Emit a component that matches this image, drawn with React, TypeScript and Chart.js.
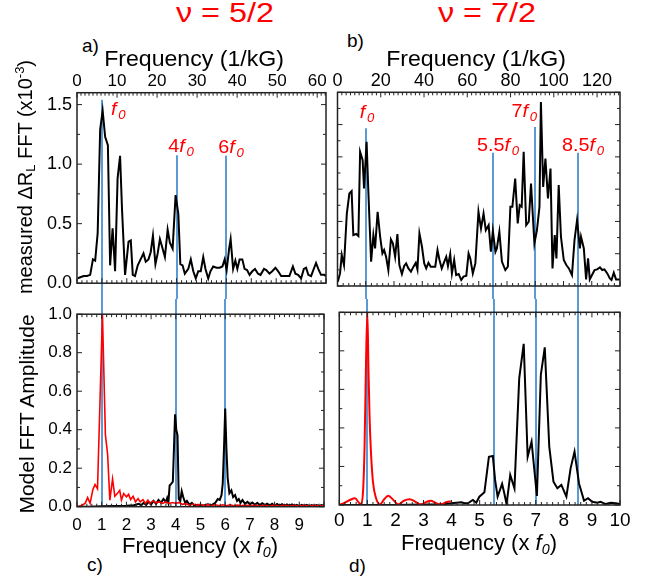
import React, { useEffect, useRef } from 'react';
import { Chart, registerables } from 'chart.js';
Chart.register(...registerables);

// ---------------- data ----------------
const f0_52 = 6.22; // 1/kG
const f0_72 = 13.06; // 1/kG

const harmonics52 = [1, 4, 6];
const harmonicPrefix52 = ['', '4', '6'];
const harmonics72 = [1, 5.5, 7, 8.5];
const harmonicPrefix72 = ['', '5.5', '7', '8.5'];

// measured FFT, nu = 5/2  [freq (x f0), amplitude (x1e-3)]
const measured52: number[][] = [
  [0.03,0.04],[0.13,0.05],[0.27,0.06],[0.4,0.06],[0.53,0.07],[0.64,0.2],[0.73,0.19],[0.83,0.42],[0.93,1.29],[1.03,1.45],
  [1.13,1.23],[1.24,1.16],[1.33,0.15],[1.43,0.46],[1.53,0.1],[1.63,0.88],[1.73,1.07],[1.81,0.61],[1.93,0.07],[2.07,0.35],
  [2.16,0.36],[2.24,0.07],[2.33,0.06],[2.44,0.15],[2.53,0.19],[2.67,0.25],[2.76,0.18],[2.87,0.2],[2.96,0.26],[3.05,0.4],
  [3.15,0.16],[3.24,0.25],[3.33,0.37],[3.44,0.29],[3.53,0.22],[3.64,0.45],[3.73,0.34],[3.84,0.29],[3.96,0.74],[4.07,0.58],
  [4.15,0.16],[4.24,0.15],[4.33,0.08],[4.47,0.12],[4.57,0.2],[4.67,0.1],[4.77,0.04],[4.87,0.1],[4.97,0.1],[5.07,0.22],
  [5.16,0.12],[5.27,0.04],[5.36,0.1],[5.47,0.14],[5.6,0.13],[5.73,0.13],[5.84,0.14],[5.93,0.2],[6.01,0.11],[6.11,0.29],
  [6.17,0.37],[6.27,0.12],[6.36,0.19],[6.44,0.12],[6.53,0.2],[6.64,0.2],[6.73,0.12],[6.83,0.11],[6.93,0.07],[7.04,0.1],
  [7.15,0.12],[7.27,0.08],[7.37,0.07],[7.51,0.12],[7.6,0.11],[7.73,0.08],[7.84,0.1],[7.97,0.13],[8.08,0.1],[8.2,0.06],
  [8.31,0.06],[8.43,0.06],[8.53,0.06],[8.67,0.14],[8.77,0.08],[8.88,0.07],[9.0,0.04],[9.11,0.12],[9.2,0.13],[9.29,0.07],
  [9.4,0.06],[9.49,0.11],[9.6,0.17],[9.69,0.12],[9.8,0.07],[9.93,0.07],[10,0.06],
];

// measured FFT, nu = 7/2  [freq (x f0), amplitude (arb.)]
const measured72: number[][] = [
  [0.01,0.027],[0.09,0.078],[0.15,0.192],[0.23,0.13],[0.33,0.449],[0.42,0.573],[0.5,0.588],[0.56,0.315],[0.66,0.322],[0.74,0.309],
  [0.8,0.831],[0.89,0.779],[0.94,0.604],[1.03,0.893],[1.09,0.594],[1.19,0.151],[1.27,0.315],[1.33,0.233],[1.42,0.46],[1.51,0.305],
  [1.59,0.202],[1.65,0.223],[1.72,0.181],[1.8,0.099],[1.89,0.289],[1.96,0.264],[2.04,0.181],[2.12,0.322],[2.19,0.13],[2.28,0.074],
  [2.36,0.124],[2.43,0.14],[2.51,0.109],[2.6,0.089],[2.69,0.12],[2.77,0.144],[2.83,0.103],[2.9,0.326],[2.99,0.243],[3.07,0.14],
  [3.14,0.109],[3.22,0.144],[3.3,0.12],[3.4,0.12],[3.46,0.12],[3.54,0.223],[3.61,0.161],[3.69,0.109],[3.78,0.151],[3.85,0.181],
  [3.91,0.124],[3.99,0.198],[4.05,0.078],[4.13,0.161],[4.2,0.068],[4.29,0.074],[4.38,0.037],[4.46,0.058],[4.56,0.064],[4.64,0.202],
  [4.7,0.171],[4.79,0.078],[4.88,0.14],[4.99,0.46],[5.08,0.357],[5.17,0.449],[5.25,0.346],[5.35,0.377],[5.43,0.212],[5.5,0.342],
  [5.59,0.212],[5.64,0.233],[5.73,0.336],[5.82,0.151],[5.94,0.099],[6.03,0.12],[6.12,0.491],[6.19,0.491],[6.29,0.666],[6.38,0.388],
  [6.45,0.501],[6.52,0.491],[6.59,0.831],[6.68,0.377],[6.77,0.398],[6.85,0.635],[6.97,0.264],[7.06,0.346],[7.15,0.491],[7.2,1.14],
  [7.28,0.614],[7.36,0.79],[7.45,0.542],[7.54,0.728],[7.61,0.109],[7.69,0.315],[7.75,0.171],[7.83,0.625],[7.91,0.305],[8.01,0.161],
  [8.1,0.13],[8.19,0.109],[8.3,0.068],[8.39,0.285],[8.48,0.408],[8.58,0.233],[8.62,0.305],[8.72,0.233],[8.8,0.041],[8.87,0.171],
  [8.93,0.041],[9.01,0.068],[9.1,0.099],[9.19,0.103],[9.29,0.115],[9.37,0.099],[9.45,0.103],[9.55,0.078],[9.64,0.047],[9.7,0.037],
  [9.78,0.082],[9.86,0.041],[9.95,0.041],[10,0.041],
];

// model FFT, nu = 5/2
const model52Red: number[][] = [
  [0.03,0],[0.2,0.008],[0.33,0.017],[0.43,0.047],[0.53,0.017],[0.64,0.088],[0.73,0.115],[0.83,0.093],[0.93,0.54],[1.03,1.0],
  [1.15,0.373],[1.24,0.271],[1.33,0.034],[1.44,0.144],[1.53,0.054],[1.63,0.068],[1.73,0.085],[1.8,0.034],[1.89,0.068],[2.0,0.051],
  [2.09,0.064],[2.17,0.037],[2.27,0.054],[2.37,0.025],[2.47,0.042],[2.56,0.025],[2.67,0.037],[2.77,0.017],[2.87,0.034],[2.96,0.017],
  [3.07,0.03],[3.2,0.02],[3.33,0.025],[3.47,0.017],[3.6,0.025],[3.73,0.017],[3.87,0.022],[4.0,0.017],[4.13,0.022],[4.27,0.012],
  [4.4,0.016],[4.55,0.008],[4.7,0.014],[4.85,0.007],[5.0,0.012],[5.15,0.006],[5.3,0.011],[5.45,0.006],[5.6,0.01],[5.75,0.005],
  [5.9,0.01],[6.05,0.005],[6.2,0.01],[6.35,0.005],[6.5,0.009],[6.65,0.005],[6.8,0.009],[7.0,0.005],[7.2,0.008],[7.4,0.004],
  [7.6,0.008],[7.8,0.004],[8.0,0.008],[8.2,0.004],[8.4,0.008],[8.6,0.004],[8.8,0.007],[9.0,0.004],[9.2,0.007],[9.4,0.004],
  [9.6,0.007],[9.8,0.004],[10,0.006],
];
const model52Black: number[][] = [
  [0,0],[0.5,0],[1.0,0.002],[1.5,0.003],[2.0,0.005],[2.3,0.008],[2.5,0.015],[2.6,0.008],[2.7,0.02],[2.8,0.01],
  [2.9,0.025],[3.0,0.012],[3.1,0.03],[3.2,0.015],[3.3,0.035],[3.4,0.02],[3.5,0.04],[3.6,0.025],[3.65,0.045],[3.7,0.02],
  [3.75,0.11],[3.82,0.12],[3.88,0.13],[3.93,0.32],[3.97,0.48],[4.02,0.4],[4.07,0.37],[4.12,0.04],[4.18,0.03],[4.24,0.08],
  [4.3,0.05],[4.38,0.02],[4.45,0.03],[4.55,0.01],[4.65,0.02],[4.75,0.005],[4.9,0.01],[5.1,0.005],[5.3,0.012],[5.45,0.008],
  [5.6,0.02],[5.7,0.04],[5.78,0.035],[5.85,0.06],[5.9,0.12],[5.95,0.3],[6.0,0.51],[6.05,0.3],[6.1,0.15],[6.17,0.07],
  [6.25,0.085],[6.32,0.05],[6.4,0.06],[6.48,0.03],[6.55,0.04],[6.62,0.02],[6.7,0.035],[6.8,0.015],[6.9,0.025],[7.0,0.012],
  [7.1,0.022],[7.2,0.01],[7.3,0.02],[7.4,0.008],[7.5,0.018],[7.6,0.008],[7.7,0.016],[7.8,0.006],[7.9,0.015],[8.0,0.005],
  [8.1,0.014],[8.2,0.006],[8.3,0.013],[8.4,0.004],[8.5,0.012],[8.6,0.004],[8.7,0.012],[8.8,0.004],[8.9,0.01],[9.0,0.003],
  [9.1,0.01],[9.2,0.004],[9.3,0.01],[9.4,0.003],[9.5,0.009],[9.6,0.004],[9.7,0.009],[9.8,0.004],[9.9,0.008],[10,0.005],
];

// model FFT, nu = 7/2
const model72Red: number[][] = [
  [0,0],[0.2,0.012],[0.38,0.026],[0.56,0.035],[0.7,0.012],[0.78,0.004],[0.85,0.08],[0.9,0.3],[0.95,0.72],[1.0,1.0],
  [1.04,0.7],[1.08,0.45],[1.13,0.27],[1.2,0.12],[1.3,0.04],[1.45,0.003],[1.6,0.03],[1.74,0.048],[1.9,0.03],[2.1,0.003],
  [2.3,0.022],[2.5,0.03],[2.7,0.018],[2.9,0.002],[3.1,0.016],[3.25,0.022],[3.45,0.01],[3.6,0.002],[3.8,0.014],[3.97,0.02],
];
const model72Black: number[][] = [
  [0,0],[1,0],[2,0],[3,0.002],[3.7,0.004],[3.99,0.009],[4.17,0.012],[4.35,0.014],[4.47,0.009],[4.58,0.009],
  [4.76,0.026],[4.88,0.012],[4.99,0.043],[5.17,0.066],[5.33,0.25],[5.47,0.254],[5.55,0.13],[5.64,0.043],[5.8,0.11],[5.88,0.06],
  [5.96,0.004],[6.09,0.156],[6.24,0.087],[6.41,0.657],[6.57,0.836],[6.71,0.25],[6.85,0.329],[7.04,0.047],[7.18,0.675],[7.32,0.818],
  [7.48,0.303],[7.63,0.121],[7.77,0.087],[7.91,0.104],[8.09,0.043],[8.24,0.19],[8.38,0.277],[8.54,0.112],[8.72,0.022],[8.86,0.035],
  [9.01,0.017],[9.19,0.012],[9.31,0.017],[9.49,0.005],[9.67,0.012],[9.85,0.009],[10,0.005],
];

// ---------------- styling ----------------
const FONT = "'Liberation Sans', Arial, Helvetica, sans-serif";
const BLUE = '#5b9bd5';
const RED = '#ff0000';
const LABEL_SX = 1.1;

const harmonicPlugin: any = {
  id: 'harmonics',
  beforeDatasetsDraw(chart: any, _a: any, o: any) {
    const { ctx, chartArea, scales } = chart;
    const x = scales.x, y = scales.y;
    ctx.save();
    ctx.strokeStyle = BLUE;
    ctx.lineWidth = 2;
    ctx.beginPath();
    o.positions.forEach((p: number, i: number) => {
      const px = Math.round(x.getPixelForValue(p));
      const y0 = o.tops ? y.getPixelForValue(o.tops[i]) : 0;
      const y1 = o.toCanvasBottom ? chart.height : chartArea.bottom;
      ctx.moveTo(px, y0);
      ctx.lineTo(px, y1);
    });
    ctx.stroke();
    ctx.restore();
  },
  afterDraw(chart: any, _a: any, o: any) {
    if (!o.prefixes) return;
    const { ctx, scales } = chart;
    const x = scales.x, y = scales.y;
    o.positions.forEach((p: number, i: number) => {
      const px = Math.round(x.getPixelForValue(p)) + o.dx[i];
      const base = y.getPixelForValue(o.tops[i]) + o.dy[i];
      ctx.save();
      ctx.translate(px, base);
      ctx.scale(LABEL_SX, 1);
      ctx.fillStyle = RED;
      ctx.textBaseline = 'alphabetic';
      ctx.textAlign = 'left';
      const pre = o.prefixes[i];
      ctx.font = `18px ${FONT}`;
      const w1 = ctx.measureText(pre).width;
      ctx.font = `italic 18px ${FONT}`;
      const w2 = ctx.measureText('f').width + 1.5;
      ctx.font = `italic 12px ${FONT}`;
      const w3 = ctx.measureText('0').width;
      const tot = w1 + w2 + w3;
      const al = o.align[i];
      const s0 = al === 'left' ? 0 : al === 'right' ? -tot : -tot / 2;
      ctx.font = `18px ${FONT}`;
      ctx.fillText(pre, s0, 0);
      ctx.font = `italic 18px ${FONT}`;
      ctx.fillText('f', s0 + w1, 0);
      ctx.font = `italic 12px ${FONT}`;
      ctx.fillText('0', s0 + w1 + w2, 4);
      ctx.restore();
    });
  },
};

const framePlugin: any = {
  id: 'frame',
  afterDraw(chart: any, _a: any, o: any) {
    const { ctx, chartArea, scales } = chart;
    const { left, right, top, bottom } = chartArea;
    const xs = scales.x, ys = scales.y;
    const ts = scales[o.topScale] || xs;
    const run = (scale: any, minor: number, every: number, cb: (p: number, l: number) => void) => {
      const n = Math.floor((scale.max - scale.min) / minor + 1e-6);
      for (let i = 0; i <= n; i++) {
        const v = scale.min + i * minor;
        cb(scale.getPixelForValue(v), i % every === 0 ? 5 : 3);
      }
    };
    ctx.save();
    ctx.strokeStyle = '#222';
    ctx.lineWidth = 1;
    ctx.beginPath();
    run(xs, o.xMinor, o.xEvery, (p, l) => { ctx.moveTo(p, bottom); ctx.lineTo(p, bottom - l); });
    run(ts, o.topMinor, o.topEvery, (p, l) => { ctx.moveTo(p, top); ctx.lineTo(p, top + l); });
    run(ys, o.yMinor, o.yEvery, (p, l) => {
      ctx.moveTo(left, p); ctx.lineTo(left + l, p);
      ctx.moveTo(right, p); ctx.lineTo(right - l, p);
    });
    ctx.stroke();
    ctx.lineWidth = 1.5;
    ctx.strokeRect(left, top, right - left, bottom - top);
    ctx.restore();
  },
};

const line = (pairs: number[][], color: string, width: number, smooth = false) => ({
  data: pairs.map(([x, y]) => ({ x, y })),
  borderColor: color,
  backgroundColor: color,
  borderWidth: width,
  pointRadius: 0,
  fill: false,
  tension: 0,
  cubicInterpolationMode: smooth ? 'monotone' : 'default',
});

const tickFont = (size: number) => ({ family: FONT, size });
const noGrid = { display: false, drawTicks: false };

const xHidden = { type: 'linear', display: false, min: 0, max: 10 };

const makeA = () => ({
  type: 'line',
  data: { datasets: [line(measured52, '#000', 2)] },
  plugins: [harmonicPlugin, framePlugin],
  options: {
    responsive: false, animation: false, events: [],
    layout: { padding: { left: 37, right: 6, top: 0, bottom: 10 } },
    plugins: {
      legend: { display: false }, tooltip: { enabled: false },
      harmonics: {
        positions: harmonics52, tops: [1.54, 1.075, 1.07], toCanvasBottom: true,
        prefixes: harmonicPrefix52, align: ['left', 'center', 'center'], dx: [9, 4, 5], dy: [15, -3, -3],
      },
      frame: { topScale: 'x2', xMinor: 0.2, xEvery: 5, topMinor: 1, topEvery: 10, yMinor: 0.25, yEvery: 2 },
    },
    scales: {
      x: xHidden,
      x2: {
        type: 'linear', position: 'top', min: 0, max: 10 * f0_52,
        grid: noGrid, border: { display: false },
        ticks: { stepSize: 10, includeBounds: false, font: tickFont(17), color: '#000', padding: 1, maxRotation: 0, autoSkip: false },
        afterFit: (s: any) => { s.height = 24.7; },
      },
      y: {
        type: 'linear', min: 0, max: 1.6,
        grid: noGrid, border: { display: false },
        ticks: { stepSize: 0.5, includeBounds: false, font: tickFont(18), color: '#000', padding: 5,
          callback: (v: any) => Number(v).toFixed(1) },
        afterFit: (s: any) => { s.width = 40; },
      },
    },
  },
});

const makeB = () => ({
  type: 'line',
  data: { datasets: [line(measured72, '#000', 2)] },
  plugins: [harmonicPlugin, framePlugin],
  options: {
    responsive: false, animation: false, events: [],
    layout: { padding: { left: 7.5, right: 35, top: 0, bottom: 13 } },
    plugins: {
      legend: { display: false }, tooltip: { enabled: false },
      harmonics: {
        positions: harmonics72, tops: [0.977, 0.826, 0.985, 0.826], toCanvasBottom: true,
        prefixes: harmonicPrefix72, align: ['center', 'center', 'right', 'center'], dx: [1, 5, 2, 5], dy: [-10, -2, -10, -2],
      },
      frame: { topScale: 'x2', xMinor: 0.2, xEvery: 5, topMinor: 2, topEvery: 10, yMinor: 0.1, yEvery: 2 },
    },
    scales: {
      x: xHidden,
      x2: {
        type: 'linear', position: 'top', min: 0, max: 10 * f0_72,
        grid: noGrid, border: { display: false },
        ticks: { stepSize: 20, includeBounds: false, font: tickFont(18), color: '#000', padding: 0, maxRotation: 0, autoSkip: false },
        afterFit: (s: any) => { s.height = 24.3; },
      },
      y: { type: 'linear', display: false, min: 0, max: 1.2 },
    },
  },
});

const makeC = () => ({
  type: 'line',
  data: { datasets: [line(model52Red, RED, 1.6), line(model52Black, '#000', 2)] },
  plugins: [harmonicPlugin, framePlugin],
  options: {
    responsive: false, animation: false, events: [],
    layout: { padding: { left: 37, right: 6, top: 11.5, bottom: 0 } },
    plugins: {
      legend: { display: false }, tooltip: { enabled: false },
      harmonics: { positions: harmonics52 },
      frame: { topScale: 'x', xMinor: 0.2, xEvery: 5, topMinor: 0.2, topEvery: 5, yMinor: 0.1, yEvery: 2 },
    },
    scales: {
      x: {
        type: 'linear', position: 'bottom', min: 0, max: 10,
        grid: noGrid, border: { display: false },
        ticks: { stepSize: 1, includeBounds: false, font: tickFont(17), color: '#000', padding: 8, maxRotation: 0, autoSkip: false,
          callback: (v: any) => (Number(v) >= 10 ? '' : String(v)) },
        afterFit: (s: any) => { s.height = 30.3; },
      },
      y: {
        type: 'linear', min: 0, max: 1,
        grid: noGrid, border: { display: false },
        ticks: { stepSize: 0.2, font: tickFont(17), color: '#000', padding: 5,
          callback: (v: any) => Number(v).toFixed(1) },
        afterFit: (s: any) => { s.width = 40; },
      },
    },
  },
});

const makeD = () => ({
  type: 'line',
  data: { datasets: [line(model72Red, RED, 2, true), line(model72Black, '#000', 2)] },
  plugins: [harmonicPlugin, framePlugin],
  options: {
    responsive: false, animation: false, events: [],
    layout: { padding: { left: 7.5, right: 35, top: 13.3, bottom: 0 } },
    plugins: {
      legend: { display: false }, tooltip: { enabled: false },
      harmonics: { positions: harmonics72 },
      frame: { topScale: 'x', xMinor: 0.2, xEvery: 5, topMinor: 0.2, topEvery: 5, yMinor: 0.1, yEvery: 2 },
    },
    scales: {
      x: {
        type: 'linear', position: 'bottom', min: 0, max: 10,
        grid: noGrid, border: { display: false },
        ticks: { stepSize: 1, font: tickFont(19), color: '#000', padding: 4, maxRotation: 0, autoSkip: false },
        afterFit: (s: any) => { s.height = 32; },
      },
      y: { type: 'linear', display: false, min: 0, max: 1 },
    },
  },
});

const Panel = ({ left, top, width, height, make }: { left: number; top: number; width: number; height: number; make: () => any }) => {
  const ref = useRef<HTMLCanvasElement>(null);
  useEffect(() => {
    const chart = new Chart(ref.current as HTMLCanvasElement, make());
    return () => chart.destroy();
  }, []);
  return (
    <canvas ref={ref} width={width} height={height}
      style={{ position: 'absolute', left, top, width, height }} />
  );
};

// text with baseline at y
const Txt = ({ x, y, size, color = '#000', align = 'left', sx = 1, children }: any) => {
  const tx = align === 'center' ? 'translateX(-50%)' : '';
  return (
    <div style={{
      position: 'absolute', left: x, top: y - 0.8465 * size, fontSize: size, lineHeight: 1,
      fontFamily: FONT, color, whiteSpace: 'nowrap',
      transform: `${tx} scaleX(${sx})`, transformOrigin: align === 'center' ? 'center' : 'left',
    }}>{children}</div>
  );
};

const VTxt = ({ cx, cy, size, children }: any) => (
  <div style={{
    position: 'absolute', left: cx, top: cy, fontSize: size, lineHeight: 1, fontFamily: FONT,
    color: '#000', whiteSpace: 'nowrap', transform: 'translate(-50%, -50%) rotate(-90deg)',
  }}>{children}</div>
);

const subStyle: any = { fontSize: '0.65em', verticalAlign: '-0.25em', lineHeight: 0 };
const supStyle: any = { fontSize: '0.65em', verticalAlign: '0.6em', lineHeight: 0 };

export default function App() {
  return (
    <div style={{ position: 'absolute', left: 0, top: 0, width: 655, height: 577, background: '#fff', overflow: 'hidden' }}>
      <Panel left={0} top={68} width={332} height={231} make={makeA} />
      <Panel left={330} top={68} width={325} height={231} make={makeB} />
      <Panel left={0} top={299} width={332} height={238} make={makeC} />
      <Panel left={330} top={299} width={325} height={238} make={makeD} />

      <Txt x={225} y={23} size={27} color={RED} align="center" sx={1.2}>ν = 5/2</Txt>
      <Txt x={487} y={23} size={27} color={RED} align="center" sx={1.2}>ν = 7/2</Txt>

      <Txt x={82} y={52} size={19}>a)</Txt>
      <Txt x={347} y={47} size={19}>b)</Txt>
      <Txt x={87} y={571} size={19}>c)</Txt>
      <Txt x={349} y={572} size={19}>d)</Txt>

      <Txt x={194} y={67} size={22} align="center" sx={1.05}>Frequency (1/kG)</Txt>
      <Txt x={476} y={67} size={22} align="center" sx={1.05}>Frequency (1/kG)</Txt>

      <Txt x={200} y={554} size={22} align="center">Frequency (x <i>f</i><i style={subStyle}>0</i>)</Txt>
      <Txt x={479} y={551} size={22} align="center">Frequency (x <i>f</i><i style={subStyle}>0</i>)</Txt>

      <VTxt cx={25} cy={177} size={20}>measured ΔR<span style={subStyle}>L</span> FFT (x10<span style={supStyle}>-3</span>)</VTxt>
      <VTxt cx={26} cy={414} size={21}>Model FFT Amplitude</VTxt>
    </div>
  );
}
